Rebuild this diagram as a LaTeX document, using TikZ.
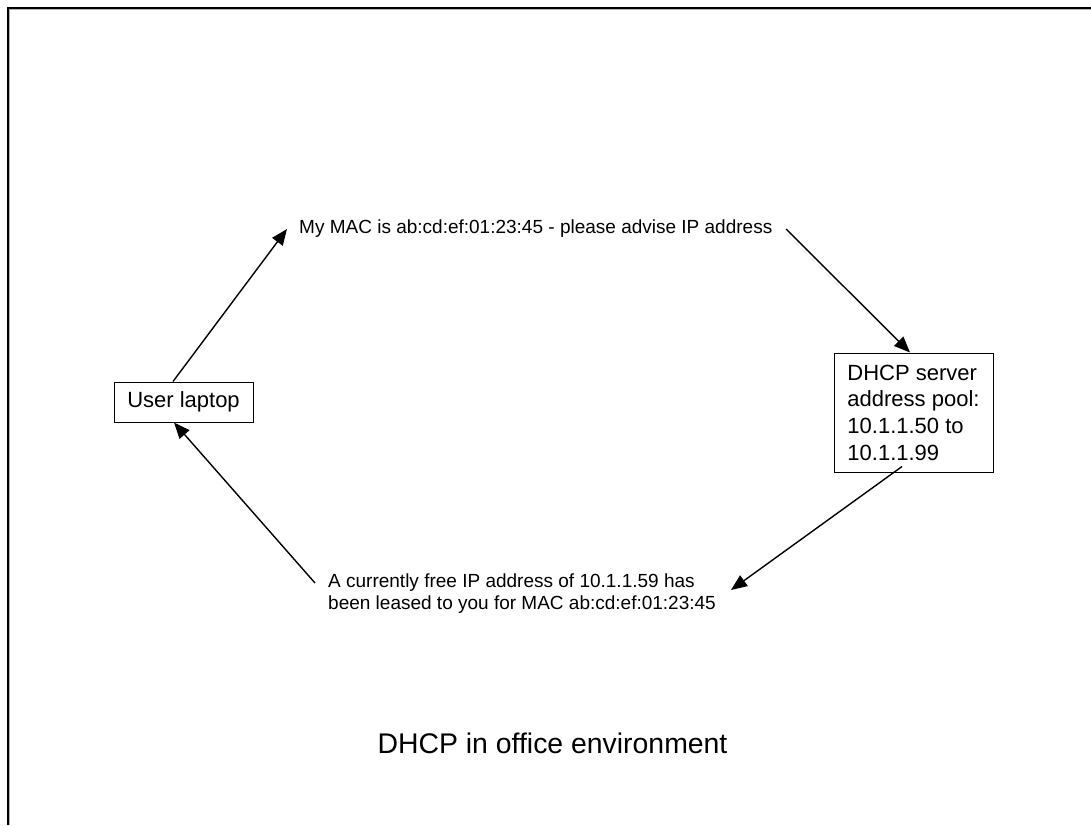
\documentclass[tikz,border=0pt]{standalone}
\usepackage{fontspec}
\setmainfont{Liberation Sans}
\usetikzlibrary{arrows.meta}
\begin{document}
\begin{tikzpicture}[x=1pt,y=-1pt,
  msg/.style={inner sep=0pt,font=\fontsize{19}{22.5}\selectfont},
  box/.style={draw,line width=1pt,inner sep=0pt,font=\fontsize{22}{26.7}\selectfont},
  flow/.style={line width=1.4pt,-{Triangle[length=16pt,width=13pt]}}]
  \useasboundingbox (0,0) rectangle (1091,825);
  % page frame with a light inner edge
  \draw[line width=1.3pt] (8,825) -- (8,8) -- (1091,8);
  \draw[gray!60,line width=1pt] (9.8,825) -- (9.8,9.8) -- (1091,9.8);

  % the two parties
  \node[box,minimum width=139pt,minimum height=40pt] (lap) at (183.5,402) {User laptop};
  \node[box,minimum width=159pt,minimum height=119pt,align=left] (dhcp) at (913.5,412.5)
    {DHCP server\\address pool:\\10.1.1.50 to\\10.1.1.99};

  % messages
  \node[msg,anchor=base west] (req) at (299,233)
    {My MAC is ab:cd:ef:01:23:45 - please advise IP address};
  \node[msg,anchor=north west,align=left] (ack) at (328,573.5)
    {A currently free IP address of 10.1.1.59 has\\been leased to you for MAC ab:cd:ef:01:23:45};

  \node[inner sep=0pt,anchor=base,font=\fontsize{28.4}{34}\selectfont] (title) at (552.5,753)
    {DHCP in office environment};

  % arrow end points beside the message texts
  \coordinate (reqin) at (287,229);
  \coordinate (reqout) at (786,229);
  \coordinate (ackin) at (731,590);
  \coordinate (ackout) at (315,583);

  \draw[flow] ([xshift=-10.5pt]lap.north) -- (reqin);
  \draw[flow] (reqout) -- ([xshift=-3.5pt]dhcp.north);
  \draw[flow] ([xshift=-11.5pt,yshift=6pt]dhcp.south) -- (ackin);
  \draw[flow] (ackout) -- ([xshift=-9.5pt]lap.south);
\end{tikzpicture}
\end{document}
